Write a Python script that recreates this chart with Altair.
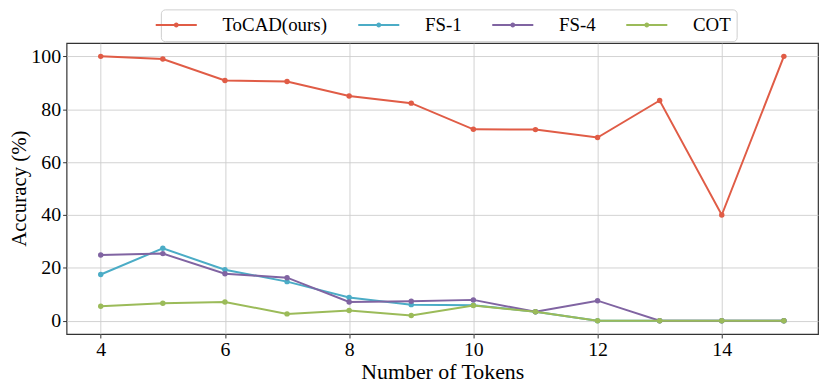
import altair as alt
import pandas as pd

tokens = [4, 5, 6, 7, 8, 9, 10, 11, 12, 13, 14, 15]
series_names = ["ToCAD(ours)", "FS-1", "FS-4", "COT"]
tocad = [100, 99.0, 90.9, 90.5, 85.0, 82.3, 72.4, 72.3, 69.3, 83.3, 40.0, 100]
fs1 = [17.5, 27.4, 19.3, 14.8, 8.8, 6.1, 5.9, 3.4, 0, 0, 0, 0]
fs4 = [24.9, 25.4, 17.8, 16.3, 7.1, 7.4, 7.9, 3.4, 7.6, 0, 0, 0]
cot = [5.5, 6.6, 7.1, 2.6, 3.9, 2.0, 5.8, 3.4, 0, 0, 0, 0]
colors = ["#E05C46", "#4BACC6", "#8064A2", "#9BBB59"]
x_ticks = [4, 6, 8, 10, 12, 14]
y_ticks = [0, 20, 40, 60, 80, 100]

values = [tocad, fs1, fs4, cot]
rows = []
for name, vals in zip(series_names, values):
    for t, v in zip(tokens, vals):
        rows.append({"tokens": t, "acc": v, "series": name})
df = pd.DataFrame(rows)

FONT = "Liberation Serif"

x = alt.X("tokens:Q", scale=alt.Scale(domain=[3.45, 15.55], nice=False, zero=False),
          axis=alt.Axis(values=x_ticks, title="Number of Tokens", format="d"))
y = alt.Y("acc:Q", scale=alt.Scale(domain=[-5, 105], nice=False, zero=False),
          axis=alt.Axis(values=y_ticks, title="Accuracy (%)", format="d",
                        titleX=-47, titleY=146, titleBaseline="middle",
                        titleFontSize=21))

# wide line with a dot in its middle; path extends beyond the unit box so the
# legend row stays as tall as the text only
legend_path = "M-3,0L3,0M0.21,0A0.21,0.21,0,1,1,-0.21,0A0.21,0.21,0,1,1,0.21,0"

color = alt.Color("series:N",
                  scale=alt.Scale(domain=series_names, range=colors),
                  sort=series_names,
                  legend=alt.Legend(title=None, orient="none", legendX=95, legendY=-34,
                                    direction="horizontal", columns=4,
                                    symbolType=legend_path, symbolSize=190,
                                    symbolStrokeWidth=2, labelFontSize=19,
                                    labelFont=FONT, labelOffset=37,
                                    columnPadding=26, padding=6,
                                    strokeColor="#cfcfcf", cornerRadius=4,
                                    fillColor="white"))

layers = []
for name in series_names:
    base = alt.Chart(df).transform_filter(alt.datum.series == name)
    layers.append(base.mark_line(strokeWidth=2).encode(x=x, y=y, color=color))
    layers.append(base.mark_point(filled=True, size=30, opacity=1).encode(x=x, y=y, color=color))

chart = alt.layer(*layers).properties(
    width=757, height=293,
    autosize=alt.AutoSizeParams(type="none"),
    padding={"left": 59, "top": 34, "right": 4, "bottom": 50},
).configure_view(
    stroke="#333333", strokeWidth=1.2
).configure_axis(
    labelFont=FONT, titleFont=FONT, labelFontSize=20, titleFontSize=22,
    labelColor="black", titleColor="black", titleFontWeight="normal",
    grid=True, gridColor="#cccccc", gridWidth=0.9,
    domain=False, ticks=True, tickColor="#333333", tickSize=4, tickWidth=1,
    labelPadding=2,
).configure_axisX(
    titlePadding=2
)

chart.save("out.html", embed_options={"renderer": "svg", "actions": False})
